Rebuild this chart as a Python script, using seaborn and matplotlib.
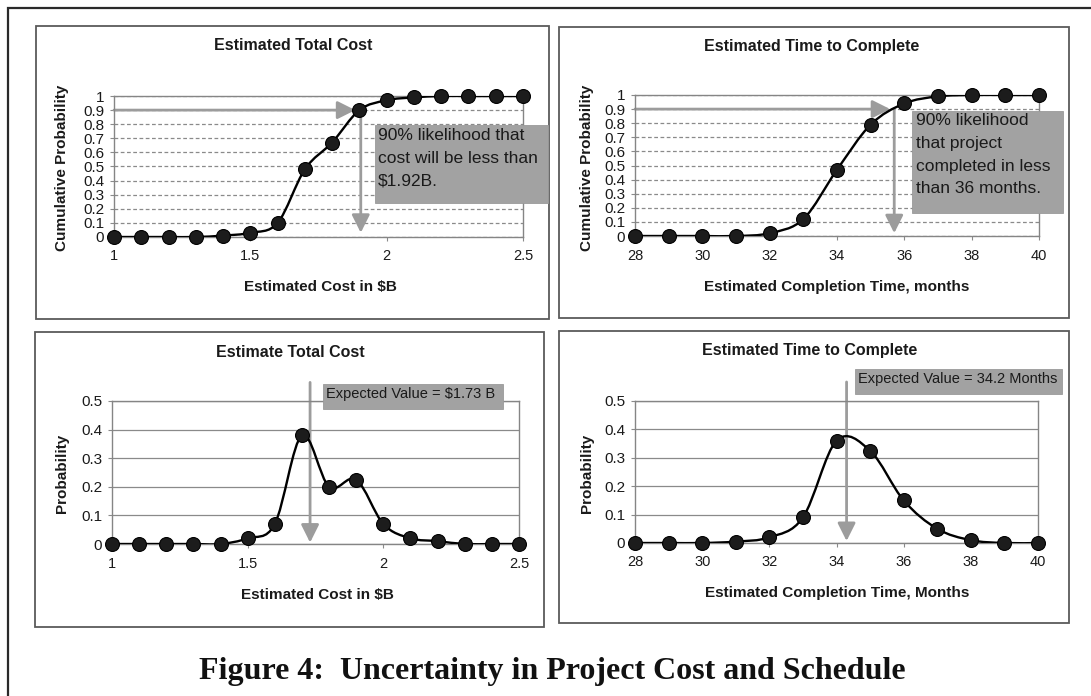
import numpy as np
import matplotlib
matplotlib.use('Agg')
import matplotlib.pyplot as plt
import seaborn as sns
from matplotlib.path import Path
from matplotlib.patches import PathPatch, Rectangle

# --- data ---
cost_x = [1.0, 1.1, 1.2, 1.3, 1.4, 1.5, 1.6, 1.7, 1.8, 1.9, 2.0, 2.1, 2.2, 2.3, 2.4, 2.5]
cost_cdf = [0, 0, 0, 0, 0.01, 0.03, 0.10, 0.48, 0.67, 0.90, 0.97, 0.99, 1.0, 1.0, 1.0, 1.0]
cost_pmf = [0, 0, 0, 0, 0, 0.02, 0.07, 0.38, 0.20, 0.225, 0.07, 0.02, 0.01, 0, 0, 0]

time_x = [28, 29, 30, 31, 32, 33, 34, 35, 36, 37, 38, 39, 40]
time_cdf = [0, 0, 0, 0, 0.02, 0.12, 0.47, 0.79, 0.94, 0.99, 1.0, 1.0, 1.0]
time_pmf = [0, 0, 0, 0.005, 0.02, 0.09, 0.36, 0.325, 0.15, 0.05, 0.01, 0, 0]

cost_p90 = 1.905      # where the 90% arrow drops
time_p90 = 35.7
cost_ev = 1.73        # expected value arrows
time_ev = 34.3

cdf_ticks = [0, 0.1, 0.2, 0.3, 0.4, 0.5, 0.6, 0.7, 0.8, 0.9, 1.0]
pmf_ticks = [0, 0.1, 0.2, 0.3, 0.4, 0.5]
cost_xticks = [1, 1.5, 2, 2.5]
time_xticks = [28, 30, 32, 34, 36, 38, 40]

cost_note = "90% likelihood that\ncost will be less than\n$1.92B."
time_note = "90% likelihood\nthat project\ncompleted in less\nthan 36 months."
cost_ev_note = "Expected Value = $1.73 B"
time_ev_note = "Expected Value = 34.2 Months"

sns.set_style('white')
plt.rcParams['font.family'] = ['Liberation Sans', 'DejaVu Sans']

W, H = 1091, 696
fig = plt.figure(figsize=(W / 100, H / 100), dpi=100)


def fx(px):
    return px / W


def fy(py):
    return 1 - py / H


def rect(l, t, r, b):
    return [fx(l), fy(b), (r - l) / W, (b - t) / H]


def smooth_path(xs, ys):
    # excel style smoothed line (catmull-rom as cubic bezier)
    p = np.column_stack([xs, ys]).astype(float)
    verts = [p[0]]
    codes = [Path.MOVETO]
    n = len(p)
    for i in range(n - 1):
        p0 = p[i - 1] if i > 0 else p[i]
        p3 = p[i + 2] if i + 2 < n else p[i + 1]
        verts += [p[i] + (p[i + 1] - p0) / 6, p[i + 1] - (p3 - p[i]) / 6, p[i + 1]]
        codes += [Path.CURVE4] * 3
    return Path(verts, codes)


GRID = '#8a8a8a'
ARROW = '#9c9c9c'
TXT = '#1a1a1a'


def draw_panel(ax, xs, ys, xticks, yticks, dashed):
    ax.add_patch(PathPatch(smooth_path(xs, ys), fill=False, edgecolor='black',
                           lw=1.7, zorder=3))
    sns.scatterplot(x=xs, y=ys, ax=ax, s=100, color='#1c1c1c', edgecolor='black',
                    linewidth=0.8, zorder=4, clip_on=False, legend=False)
    ax.set_xlim(xs[0], xs[-1])
    ax.set_ylim(yticks[0], yticks[-1])
    ax.set_xticks(xticks)
    ax.set_xticklabels(['%g' % t for t in xticks])
    ax.set_yticks(yticks)
    ax.set_yticklabels(['%g' % t for t in yticks])
    ax.tick_params(axis='x', length=3, width=0.8, color=GRID, pad=6,
                   labelsize=10.5, labelcolor=TXT, bottom=True)
    ax.tick_params(axis='y', length=3, width=0.8, color=GRID, pad=4,
                   labelsize=11, labelcolor=TXT, left=True)
    ax.yaxis.grid(True, color=GRID, lw=0.9,
                  linestyle=(0, (3, 2)) if dashed else '-')
    ax.xaxis.grid(False)
    for s in ax.spines.values():
        s.set_color('#858585')
        s.set_linewidth(1.0)
    ax.set_xlabel('')
    ax.set_ylabel('')


def arrow(ax, start, tip):
    ax.annotate('', xy=tip, xytext=start, annotation_clip=False,
                arrowprops=dict(arrowstyle='-|>,head_length=0.9,head_width=0.45',
                                color=ARROW, lw=2, shrinkA=0, shrinkB=0,
                                mutation_scale=12), zorder=2.5)


ax_tl = fig.add_axes(rect(114, 96, 523, 237))
ax_tr = fig.add_axes(rect(635, 95, 1039, 236))
ax_bl = fig.add_axes(rect(112, 401, 519, 544))
ax_br = fig.add_axes(rect(635, 401, 1038, 543))

draw_panel(ax_tl, cost_x, cost_cdf, cost_xticks, cdf_ticks, True)
draw_panel(ax_tr, time_x, time_cdf, time_xticks, cdf_ticks, True)
draw_panel(ax_bl, cost_x, cost_pmf, cost_xticks, pmf_ticks, False)
draw_panel(ax_br, time_x, time_pmf, time_xticks, pmf_ticks, False)

# 90% arrows on the cumulative charts
arrow(ax_tl, (cost_x[0], 0.9), (cost_p90 - 0.02, 0.9))
arrow(ax_tl, (cost_p90, 0.9), (cost_p90, 0.03))
arrow(ax_tr, (time_x[0], 0.9), (time_p90 - 0.12, 0.9))
arrow(ax_tr, (time_p90, 0.9), (time_p90, 0.02))
# expected value arrows
arrow(ax_bl, (cost_ev, 0.565), (cost_ev, 0.005))
arrow(ax_br, (time_ev, 0.567), (time_ev, 0.007))

# panel frames and outer frame
for l, t, r, b in [(36, 26, 549, 319), (559, 27, 1069, 318),
                   (35, 332, 544, 627), (559, 331, 1069, 623)]:
    fig.add_artist(Rectangle((fx(l), fy(b)), (r - l) / W, (b - t) / H,
                             transform=fig.transFigure, fill=False,
                             edgecolor='#5a5a5a', lw=1.3))
fig.add_artist(Rectangle((fx(8), fy(720)), (1120 - 8) / W, (720 - 8) / H,
                         transform=fig.transFigure, fill=False,
                         edgecolor='#2a2a2a', lw=1.6))

# grey note boxes
def note(l, t, r, b, text, tx, ty, size, ls):
    fig.add_artist(Rectangle((fx(l), fy(b)), (r - l) / W, (b - t) / H,
                             transform=fig.transFigure, facecolor='#a2a2a2',
                             edgecolor='#9a9a9a', lw=0.6, zorder=5))
    fig.text(fx(tx), fy(ty), text, fontsize=size, color=TXT, ha='left',
             va='top', linespacing=ls, zorder=6)


note(375, 125, 548, 203, cost_note, 378, 128, 12.5, 1.65)
note(912, 111, 1063, 213, time_note, 916, 113, 12.5, 1.65)
note(323, 384, 503, 409, cost_ev_note, 326, 387, 10.5, 1.2)
note(855, 369, 1062, 394, time_ev_note, 858, 372, 10.5, 1.2)

# titles and axis labels
tit = dict(fontsize=11.5, fontweight='bold', color=TXT, ha='center', va='center')
lab = dict(fontsize=11, fontweight='bold', color=TXT, ha='center', va='center')
fig.text(fx(293), fy(46), 'Estimated Total Cost', **tit)
fig.text(fx(812), fy(46), 'Estimated Time to Complete', **tit)
fig.text(fx(290), fy(352), 'Estimate Total Cost', **tit)
fig.text(fx(810), fy(350), 'Estimated Time to Complete', **tit)
fig.text(fx(320), fy(287), 'Estimated Cost in $B', **lab)
fig.text(fx(837), fy(287), 'Estimated Completion Time, months', **lab)
fig.text(fx(317), fy(595), 'Estimated Cost in $B', **lab)
fig.text(fx(837), fy(593), 'Estimated Completion Time, Months', **lab)
fig.text(fx(62), fy(168), 'Cumulative Probability', rotation=90, **lab)
fig.text(fx(587), fy(168), 'Cumulative Probability', rotation=90, **lab)
fig.text(fx(62), fy(473), 'Probability', rotation=90, **lab)
fig.text(fx(587), fy(473), 'Probability', rotation=90, **lab)

fig.text(fx(552), fy(679), 'Figure 4:  Uncertainty in Project Cost and Schedule',
         fontsize=23, fontweight='bold', family=['Liberation Serif', 'DejaVu Serif'],
         color='#111111', ha='center', va='baseline')

fig.savefig('out.png', dpi=100)
